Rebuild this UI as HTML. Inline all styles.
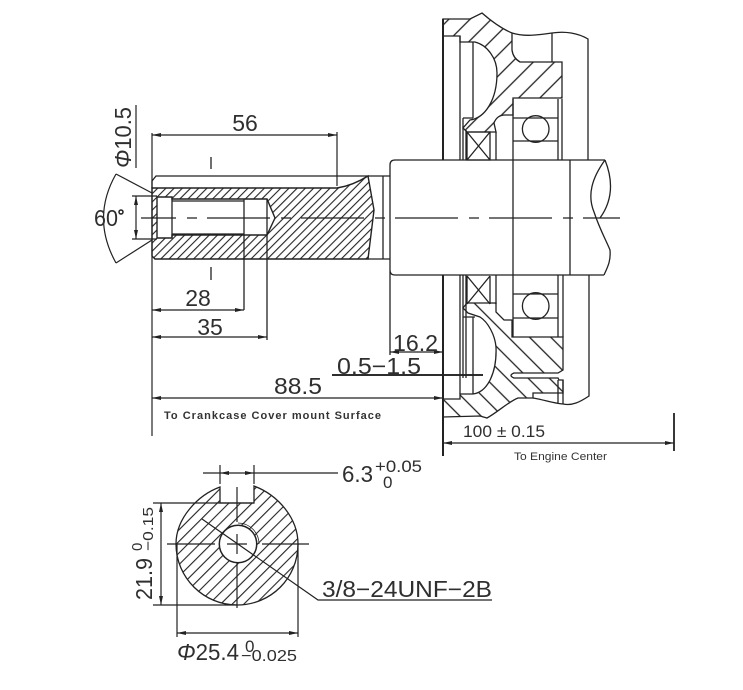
<!DOCTYPE html>
<html><head><meta charset="utf-8"><style>
html,body{margin:0;padding:0;background:#fff;width:743px;height:690px;overflow:hidden}
svg{display:block}
text{font-family:"Liberation Sans",sans-serif;fill:#2f2f2f}
</style></head><body>
<svg width="743" height="690" viewBox="0 0 743 690" xmlns="http://www.w3.org/2000/svg">
<defs>
<pattern id="h1" width="5.8" height="5.8" patternUnits="userSpaceOnUse" patternTransform="rotate(45)"><line x1="1" y1="0" x2="1" y2="5.8" stroke="#222" stroke-width="1.1"/></pattern>
<pattern id="h2" width="15" height="15" patternUnits="userSpaceOnUse" patternTransform="rotate(45)"><line x1="1" y1="0" x2="1" y2="15" stroke="#222" stroke-width="1.3"/></pattern>
<pattern id="h3" width="15" height="15" patternUnits="userSpaceOnUse" patternTransform="rotate(-45)"><line x1="1" y1="0" x2="1" y2="15" stroke="#222" stroke-width="1.3"/></pattern>
<pattern id="h4" width="8.2" height="8.2" patternUnits="userSpaceOnUse" patternTransform="rotate(45)"><line x1="1" y1="0" x2="1" y2="8.2" stroke="#222" stroke-width="1.1"/></pattern>
<marker id="a" markerWidth="10" markerHeight="6" refX="9" refY="3" orient="auto-start-reverse" markerUnits="userSpaceOnUse"><path d="M0 1L9 3L0 5z" fill="#222"/></marker>
</defs>

<!-- left shaft section -->
<path d="M152 188H337C350 186 360 181 368 176L374 210L368 259H155L152 256Z" fill="url(#h1)" stroke="#222" stroke-width="1.4"/>
<path d="M157 197H172V199H267L275 218L267 235H172V238H157Z" fill="#fff" stroke="#222" stroke-width="1.4"/>
<g fill="none" stroke="#222" stroke-width="1.3">
<path d="M172 197V238M172 201H244M172 234H244M244 199V310M267 199V340"/>
<path d="M152 188V181L156 176H368M383 176V259M368 176H390M368 259H390"/>
<path d="M390 165Q390 160 395 160H605M390 165V355M390 270Q390 275 395 275H604"/>
<path d="M605 160C592 178 587 195 594 212C600 230 606 240 610 250C611 262 607 268 604 275M605 160C613 180 613 200 600 218"/>
<path d="M513 160V275M570 160V275"/>
</g>
<!-- centre line -->
<path d="M141 218H620" stroke="#222" stroke-width="1.3" stroke-dasharray="63 11 10 10" stroke-dashoffset="28" fill="none"/>
<path d="M211 157V169M211 267V280" stroke="#222" stroke-width="1.3"/>

<!-- dims left -->
<g fill="none" stroke="#222" stroke-width="1.2">
<path d="M152 133V436"/>
<path d="M337 132V186"/>
<path d="M152 135H337" marker-start="url(#a)" marker-end="url(#a)"/>
<path d="M136 105V168"/>
<path d="M136 196V239" marker-start="url(#a)" marker-end="url(#a)"/>
<path d="M132 196H157M132 239H157"/>
<path d="M116 174Q91 218 116 263M116 174L152 193M116 263L152 240"/>
<path d="M152 310H244" marker-start="url(#a)" marker-end="url(#a)"/>
<path d="M152 337H267" marker-start="url(#a)" marker-end="url(#a)"/>
<path d="M390 352H443" marker-start="url(#a)" marker-end="url(#a)"/>
<path d="M152 398H443" marker-start="url(#a)" marker-end="url(#a)"/>
<path d="M443 443H674" marker-start="url(#a)" marker-end="url(#a)"/>
</g>
<path d="M332 375H483" stroke="#111" stroke-width="1.8"/>
<path d="M443 19V160M443 275V456" stroke="#222" stroke-width="2"/>
<path d="M674 413V451" stroke="#222" stroke-width="1.8"/>

<!-- housing top -->
<path d="M443 19H470L482 13C490 20 500 28 512 33V50Q513 58 520 62H562V98H513V115H505Q497 115 494 123L496 132H467L463 128L470 120C485 118 497 100 497 73C497 58 487 45 475 42H460V36H443Z" fill="url(#h2)" stroke="#222" stroke-width="1.3"/>
<!-- housing bottom -->
<path d="M443 417V399H460V394H473C488 392 497 372 496 347C495 335 488 322 480 317L468 313L463 308L467 303H496V312L504 320H512V337H563V370L558 373H514Q508 375.500 514 378H558L559 380H563V393H533V398H518C508 402 498 412 487 418L480 416Z" fill="url(#h3)" stroke="#222" stroke-width="1.3"/>

<g fill="none" stroke="#222" stroke-width="1.3">
<path d="M512 33C525 37 538 35 552 33C565 31 578 33 588 39V160M552 33V62"/>
<path d="M460 36V160M473 42V118M463 118H473M463 118V160M466 130V160M467 132H490V160H467ZM467 132L490 160M490 132L467 160M496 132V160"/>
<path d="M513 99V160M558 99V160M562 99V160M513 118H558M513 141H558"/>
<path d="M460 275V394M463 275V378M466 275V378M473 317V394M467 276L490 304M490 276L467 304M490 276V304M467 276V304M496 275V304M463 317H475"/>
<path d="M513 275V337M558 275V337M563 275V337M513 294H558M513 318H558"/>
<path d="M589 275V396C580 402 572 406 563 404C552 403 545 400 533 398M558 380V403M563 380V404"/>
<circle cx="535.700" cy="129" r="13.300"/>
<circle cx="535.700" cy="306" r="13.300"/>
</g>

<!-- cross section -->
<path d="M220 487C198 495 176 518 176 544C176 578 204 605 237 605C271 605 298 578 298 544C298 518 278 495 254 486V503H220Z" fill="url(#h4)" stroke="#222" stroke-width="1.3"/>
<circle cx="238" cy="544" r="18.700" fill="#fff" stroke="#222" stroke-width="1.5"/>
<path d="M238 523A21 21 0 0 1 259 544" fill="none" stroke="#222" stroke-width="0.8"/>
<g fill="none" stroke="#222" stroke-width="1.2">
<path d="M167 544H215M227 544H247M262 544H309"/>
<path d="M237 487V522M237 534V554M237 563V608"/>
<path d="M202 519L318 600H492"/>
<path d="M153 503H254M153 605H237"/>
<path d="M161 503V605" marker-start="url(#a)" marker-end="url(#a)"/>
<path d="M177 544V637M298 544V637"/>
<path d="M177 633H298" marker-start="url(#a)" marker-end="url(#a)"/>
<path d="M203 473H220M254 473H338M220 465V484M254 465V484"/>
<path d="M220 473H254" marker-start="url(#a)" marker-end="url(#a)"/>
</g>

<!-- labels -->
<text x="245" y="131" font-size="23" text-anchor="middle">56</text>
<text transform="translate(131,168) rotate(-90)" font-size="23" textLength="61" lengthAdjust="spacingAndGlyphs"><tspan font-style="italic">Φ</tspan>10.5</text>
<text x="94" y="226" font-size="23" textLength="24" lengthAdjust="spacingAndGlyphs">60</text>
<circle cx="121" cy="212" r="2" fill="none" stroke="#222" stroke-width="1.5"/>
<text x="198" y="306" font-size="23" text-anchor="middle">28</text>
<text x="210" y="335" font-size="23" text-anchor="middle">35</text>
<text x="393" y="351" font-size="23" textLength="45" lengthAdjust="spacingAndGlyphs">16.2</text>
<text x="337" y="374" font-size="23" textLength="84" lengthAdjust="spacingAndGlyphs">0.5−1.5</text>
<text x="274" y="394" font-size="23" textLength="48" lengthAdjust="spacingAndGlyphs">88.5</text>
<text x="164" y="419" font-size="11" font-weight="bold" textLength="217" style="fill:#333">To Crankcase Cover mount Surface</text>
<text x="463" y="437" font-size="17" textLength="82" lengthAdjust="spacingAndGlyphs">100 ± 0.15</text>
<text x="514" y="460" font-size="11" textLength="93" lengthAdjust="spacingAndGlyphs" style="fill:#333">To Engine Center</text>
<text x="342" y="482" font-size="23" textLength="31" lengthAdjust="spacingAndGlyphs">6.3</text>
<text x="375" y="472" font-size="17" textLength="47" lengthAdjust="spacingAndGlyphs">+0.05</text>
<text x="383" y="488" font-size="17">0</text>
<text transform="translate(152,600) rotate(-90)" font-size="23" textLength="42" lengthAdjust="spacingAndGlyphs">21.9</text>
<text transform="translate(142,551) rotate(-90)" font-size="15">0</text>
<text transform="translate(153,551) rotate(-90)" font-size="15" textLength="44" lengthAdjust="spacingAndGlyphs">−0.15</text>
<text x="322" y="597" font-size="23" textLength="170" lengthAdjust="spacingAndGlyphs">3/8−24UNF−2B</text>
<text x="177" y="660" font-size="23" textLength="62" lengthAdjust="spacingAndGlyphs"><tspan font-style="italic">Φ</tspan>25.4</text>
<text x="245" y="652" font-size="17">0</text>
<text x="241" y="661" font-size="16" textLength="56" lengthAdjust="spacingAndGlyphs">−0.025</text>
</svg>
</body></html>
